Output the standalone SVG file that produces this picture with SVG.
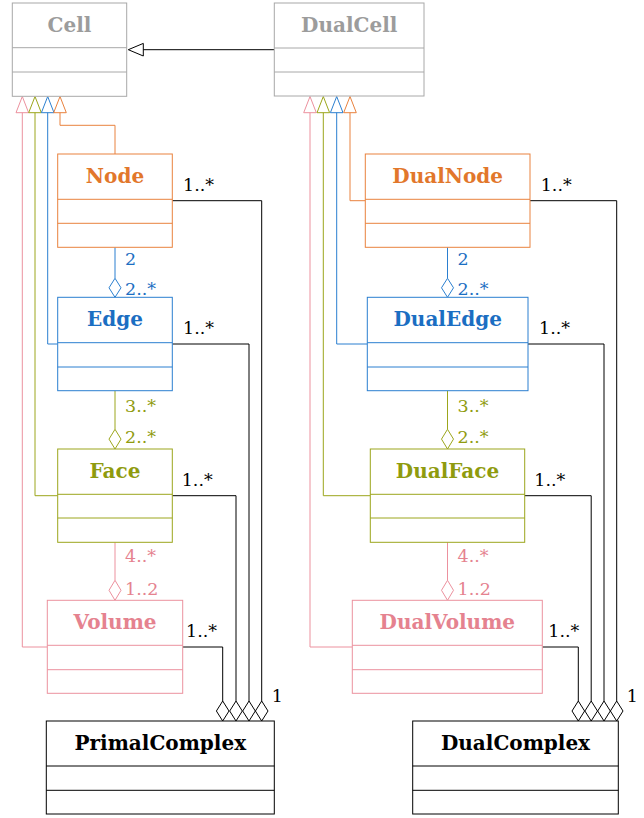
<svg xmlns="http://www.w3.org/2000/svg" width="644" height="818" viewBox="0 0 644 818">
<style>
.box{fill:#fff;stroke-width:1}
.t{font-family:"DejaVu Serif","Liberation Serif",serif;font-weight:bold;font-size:20px;text-anchor:middle}
.m{font-family:"DejaVu Serif","Liberation Serif",serif;font-size:17.5px}
.ln{fill:none;stroke-width:1}
.gray{stroke:#a8a8a8}.grayT{fill:#9c9c9c}
.or{stroke:#e9823e}.orT{fill:#e2772b}
.bl{stroke:#2b7fd0}.blT{fill:#1b6ec2}
.ol{stroke:#9ca61c}.olT{fill:#8f9b0e}
.pk{stroke:#ec919e}.pkT{fill:#e5828f}
.bk{stroke:#000}.bkT{fill:#000}
</style>
<rect width="644" height="818" fill="#fff"/>
<g id="connectors">
  <!-- DualCell -> Cell generalization -->
  <path class="ln bk" d="M274.3,49.7 H143.3"/>
  <path class="ln bk" d="M128.3,49.7 L143.3,43.4 L143.3,56 Z" fill="#fff"/>
  <!-- primal generalizations -->
  <path class="ln pk" d="M22.3,112.7 V647 H47.3"/>
  <path class="ln ol" d="M35,112.7 V495.7 H57.7"/>
  <path class="ln bl" d="M47.7,112.7 V344 H57.7"/>
  <path class="ln or" d="M60,112.7 V125.3 H115 V154"/>
  <path class="ln pk" d="M22.3,96.5 L28.6,112.7 L16,112.7 Z" fill="#fff"/>
  <path class="ln ol" d="M35,96.5 L41.3,112.7 L28.7,112.7 Z" fill="#fff"/>
  <path class="ln bl" d="M47.7,96.5 L54,112.7 L41.4,112.7 Z" fill="#fff"/>
  <path class="ln or" d="M60,96.5 L66.3,112.7 L53.7,112.7 Z" fill="#fff"/>
  <!-- dual generalizations -->
  <path class="ln pk" d="M310,112.7 V647 H352.3"/>
  <path class="ln ol" d="M323.3,112.7 V495.7 H370.3"/>
  <path class="ln bl" d="M336.7,112.7 V344 H367.3"/>
  <path class="ln or" d="M350,112.7 V200.7 H365.3"/>
  <path class="ln pk" d="M310,96.5 L316.3,112.7 L303.7,112.7 Z" fill="#fff"/>
  <path class="ln ol" d="M323.3,96.5 L329.6,112.7 L317,112.7 Z" fill="#fff"/>
  <path class="ln bl" d="M336.7,96.5 L343,112.7 L330.4,112.7 Z" fill="#fff"/>
  <path class="ln or" d="M350,96.5 L356.3,112.7 L343.7,112.7 Z" fill="#fff"/>
  <!-- primal aggregations -->
  <path class="ln bl" d="M115,247.3 V278.3"/>
  <path class="ln bl" d="M115,278.3 L121,287.8 L115,297.3 L109,287.8 Z" fill="#fff"/>
  <path class="ln ol" d="M115,390.7 V429.3"/>
  <path class="ln ol" d="M115,429.3 L121,439.1 L115,449 L109,439.1 Z" fill="#fff"/>
  <path class="ln pk" d="M115,542.3 V580.3"/>
  <path class="ln pk" d="M115,580.3 L121,590.3 L115,600.3 L109,590.3 Z" fill="#fff"/>
  <!-- dual aggregations -->
  <path class="ln bl" d="M447.5,247.3 V278.3"/>
  <path class="ln bl" d="M447.5,278.3 L453.5,287.8 L447.5,297.3 L441.5,287.8 Z" fill="#fff"/>
  <path class="ln ol" d="M447.5,390.7 V429.3"/>
  <path class="ln ol" d="M447.5,429.3 L453.5,439.1 L447.5,449 L441.5,439.1 Z" fill="#fff"/>
  <path class="ln pk" d="M447.5,542.3 V580.3"/>
  <path class="ln pk" d="M447.5,580.3 L453.5,590.3 L447.5,600.3 L441.5,590.3 Z" fill="#fff"/>
  <!-- primal complex compositions -->
  <path class="ln bk" d="M172.3,200.7 H261.7 V701"/>
  <path class="ln bk" d="M172.3,344 H249 V701"/>
  <path class="ln bk" d="M172.3,495.7 H236 V701"/>
  <path class="ln bk" d="M182.7,647 H222.7 V701"/>
  <path class="ln bk" d="M222.7,701 L229,711 L222.7,721 L216.4,711 Z" fill="#fff"/>
  <path class="ln bk" d="M236,701 L242.3,711 L236,721 L229.7,711 Z" fill="#fff"/>
  <path class="ln bk" d="M249,701 L255.3,711 L249,721 L242.7,711 Z" fill="#fff"/>
  <path class="ln bk" d="M261.7,701 L268,711 L261.7,721 L255.4,711 Z" fill="#fff"/>
  <!-- dual complex compositions -->
  <path class="ln bk" d="M530,200.7 H616.7 V701"/>
  <path class="ln bk" d="M528,344 H604 V701"/>
  <path class="ln bk" d="M524.7,495.7 H591.2 V701"/>
  <path class="ln bk" d="M542.3,647 H578.3 V701"/>
  <path class="ln bk" d="M578.3,701 L584.6,711 L578.3,721 L572,711 Z" fill="#fff"/>
  <path class="ln bk" d="M591.2,701 L597.5,711 L591.2,721 L584.9,711 Z" fill="#fff"/>
  <path class="ln bk" d="M604,701 L610.3,711 L604,721 L597.7,711 Z" fill="#fff"/>
  <path class="ln bk" d="M616.7,701 L623,711 L616.7,721 L610.4,711 Z" fill="#fff"/>
  <!-- multiplicities -->
  <text class="m blT" x="125" y="265">2</text>
  <text class="m blT" x="125" y="295">2..*</text>
  <text class="m olT" x="125" y="411.7">3..*</text>
  <text class="m olT" x="125" y="443.3">2..*</text>
  <text class="m pkT" x="125" y="561.7">4..*</text>
  <text class="m pkT" x="125" y="595">1..2</text>
  <text class="m blT" x="457.5" y="265">2</text>
  <text class="m blT" x="457.5" y="295">2..*</text>
  <text class="m olT" x="457.5" y="411.7">3..*</text>
  <text class="m olT" x="457.5" y="443.3">2..*</text>
  <text class="m pkT" x="457.5" y="561.7">4..*</text>
  <text class="m pkT" x="457.5" y="595">1..2</text>
  <text class="m bkT" x="183" y="190.7">1..*</text>
  <text class="m bkT" x="183" y="334">1..*</text>
  <text class="m bkT" x="181.7" y="486">1..*</text>
  <text class="m bkT" x="186" y="637">1..*</text>
  <text class="m bkT" x="271.7" y="701.7">1</text>
  <text class="m bkT" x="540.7" y="190.7">1..*</text>
  <text class="m bkT" x="539" y="334">1..*</text>
  <text class="m bkT" x="534.3" y="486">1..*</text>
  <text class="m bkT" x="548.3" y="637">1..*</text>
  <text class="m bkT" x="626.7" y="701.7">1</text>
</g>
<g id="Cell">
  <rect class="box gray" x="12.3" y="3" width="114.4" height="93.3"/>
  <path class="ln gray" d="M12.3,47.7 H126.7 M12.3,72 H126.7"/>
  <text class="t grayT" x="69.5" y="31.5">Cell</text>
</g>
<g id="DualCell">
  <rect class="box gray" x="274.3" y="3" width="149.7" height="93"/>
  <path class="ln gray" d="M274.3,48 H424 M274.3,72 H424"/>
  <text class="t grayT" x="349.2" y="31.5">DualCell</text>
</g>
<g id="Node">
  <rect class="box or" x="57.7" y="154" width="114.6" height="93.3"/>
  <path class="ln or" d="M57.7,199.3 H172.3 M57.7,223.3 H172.3"/>
  <text class="t orT" x="115" y="182.5">Node</text>
</g>
<g id="Edge">
  <rect class="box bl" x="57.7" y="297.3" width="114.6" height="93.4"/>
  <path class="ln bl" d="M57.7,342.7 H172.3 M57.7,367 H172.3"/>
  <text class="t blT" x="115" y="325.8">Edge</text>
</g>
<g id="Face">
  <rect class="box ol" x="57.7" y="449" width="114.6" height="93.3"/>
  <path class="ln ol" d="M57.7,494.3 H172.3 M57.7,518 H172.3"/>
  <text class="t olT" x="115" y="477.5">Face</text>
</g>
<g id="Volume">
  <rect class="box pk" x="47.3" y="600.3" width="135.4" height="93"/>
  <path class="ln pk" d="M47.3,645.3 H182.7 M47.3,669.7 H182.7"/>
  <text class="t pkT" x="115" y="628.8">Volume</text>
</g>
<g id="PrimalComplex">
  <rect class="box bk" x="46.3" y="721" width="228" height="93"/>
  <path class="ln bk" d="M46.3,766 H274.3 M46.3,790.3 H274.3"/>
  <text class="t bkT" x="160.3" y="749.5">PrimalComplex</text>
</g>
<g id="DualNode">
  <rect class="box or" x="365.3" y="154" width="164.7" height="93.3"/>
  <path class="ln or" d="M365.3,199.3 H530 M365.3,223.3 H530"/>
  <text class="t orT" x="447.7" y="182.5">DualNode</text>
</g>
<g id="DualEdge">
  <rect class="box bl" x="367.3" y="297.3" width="160.7" height="93.4"/>
  <path class="ln bl" d="M367.3,342.7 H528 M367.3,367 H528"/>
  <text class="t blT" x="447.7" y="325.8">DualEdge</text>
</g>
<g id="DualFace">
  <rect class="box ol" x="370.3" y="449" width="154.4" height="93.3"/>
  <path class="ln ol" d="M370.3,494.3 H524.7 M370.3,518 H524.7"/>
  <text class="t olT" x="447.5" y="477.5">DualFace</text>
</g>
<g id="DualVolume">
  <rect class="box pk" x="352.3" y="600.3" width="190" height="93"/>
  <path class="ln pk" d="M352.3,645.3 H542.3 M352.3,669.7 H542.3"/>
  <text class="t pkT" x="447.3" y="628.8">DualVolume</text>
</g>
<g id="DualComplex">
  <rect class="box bk" x="412.7" y="721" width="205.6" height="93"/>
  <path class="ln bk" d="M412.7,766 H618.3 M412.7,790.3 H618.3"/>
  <text class="t bkT" x="515.5" y="749.5">DualComplex</text>
</g>
</svg>
